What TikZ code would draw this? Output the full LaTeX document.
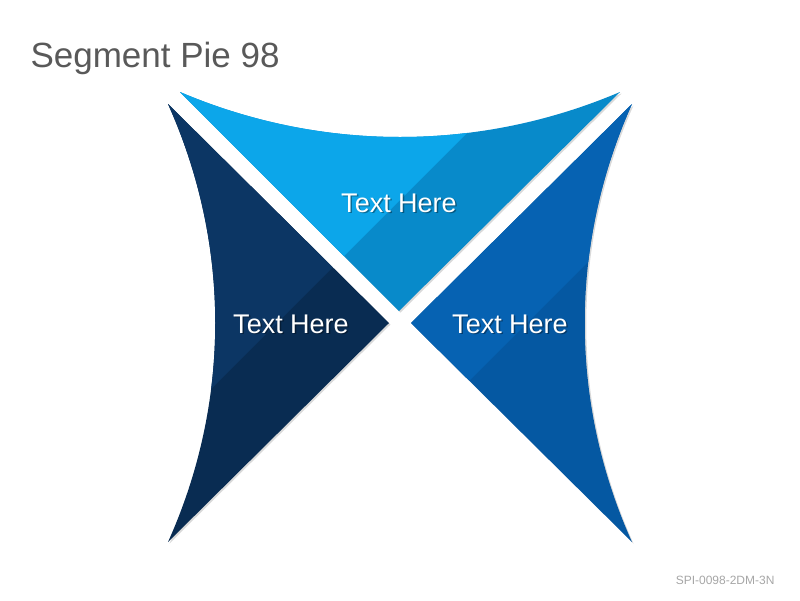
\documentclass[tikz,border=0pt]{standalone}
\usepackage{fontspec}
\setmainfont{Liberation Sans}
\definecolor{topblue}{RGB}{12,166,234}
\definecolor{topbluedark}{RGB}{8,138,202}
\definecolor{navy}{RGB}{12,54,100}
\definecolor{navydark}{RGB}{9,44,82}
\definecolor{midblue}{RGB}{6,98,178}
\definecolor{midbluedark}{RGB}{5,88,162}
\def\toppath{(180,92) .. controls (321,152) and (479,152) .. (620,92) -- (399,311) -- cycle}
\def\leftpath{(168,104) -- (389,323) -- (168,542) .. controls (231,402) and (231,244) .. (168,104) -- cycle}
\def\rightpath{(632,104) -- (411,323) -- (632,542) .. controls (569,402) and (569,244) .. (632,104) -- cycle}
\tikzset{
  segshadow/.style={fill=black,opacity=0.15,xshift=1.5pt,yshift=-1.5pt},
  seglabel/.style={text=white,font=\fontsize{27}{31}\selectfont},
  labelshadow/.style={text=black,opacity=0.35,font=\fontsize{27}{31}\selectfont},
}
\begin{document}
\begin{tikzpicture}[x=1pt,y=-1pt]
  \useasboundingbox (0,0) rectangle (800,600);
  \node[anchor=base west,text=black!65,font=\fontsize{35}{40}\selectfont] (title) at (27,67) {Segment Pie 98};
  \fill[segshadow] \toppath;
  \fill[segshadow] \leftpath;
  \fill[segshadow] \rightpath;
  % top
  \fill[topbluedark] \toppath;
  \begin{scope}
    \clip \toppath;
    \fill[topblue] (0,0) -- (600,0) -- (0,600) -- cycle;
  \end{scope}
  % left
  \fill[navydark] \leftpath;
  \begin{scope}
    \clip \leftpath;
    \fill[navy] (0,0) -- (600,0) -- (0,600) -- cycle;
  \end{scope}
  % right
  \fill[midbluedark] \rightpath;
  \begin{scope}
    \clip \rightpath;
    \fill[midblue] (0,0) -- (850,0) -- (0,850) -- cycle;
  \end{scope}
  \node[labelshadow] at (400.5,204.5) {Text Here};
  \node[seglabel] (toptext) at (399,203) {Text Here};
  \node[labelshadow] at (292.5,325.5) {Text Here};
  \node[seglabel] (lefttext) at (291,324) {Text Here};
  \node[labelshadow] at (511.5,325.5) {Text Here};
  \node[seglabel] (righttext) at (510,324) {Text Here};
  \node[anchor=east,text=black!35,font=\fontsize{12}{14}\selectfont] (code) at (778,580) {SPI-0098-2DM-3N};
\end{tikzpicture}
\end{document}
